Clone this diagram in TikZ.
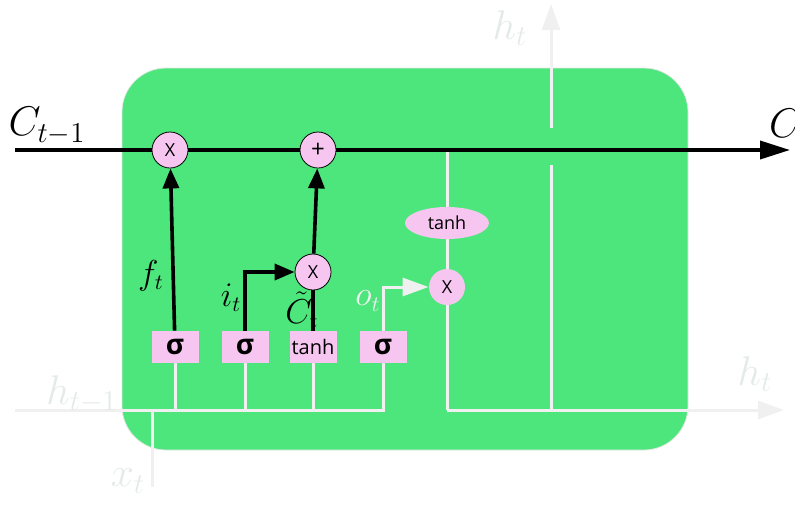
\documentclass[tikz,border=0pt]{standalone}
\usepackage{fontspec}
\setsansfont{Open Sans}
\usepackage{xcolor}
\definecolor{cellGreen}{HTML}{4DE67C}
\definecolor{gatePink}{HTML}{F6C6F0}
\definecolor{wireWhite}{HTML}{F0F0F0}
\definecolor{ghostText}{HTML}{E4EAE8}
\usepackage{tikz}
\usetikzlibrary{shapes, arrows.meta, positioning}

\begin{document}
\begin{tikzpicture}[
        x=0.5pt, y=-0.5pt,
        gateBox/.style={
            fill=gatePink,
            minimum width=23.5pt,
            minimum height=16pt,
            inner sep=0pt,
            font=\sffamily\bfseries\fontsize{14}{14}\selectfont
        },
        opCircle/.style={
            circle,
            draw=black,
            fill=gatePink,
            minimum size=18pt,
            inner sep=0pt,
            font=\sffamily\fontsize{9}{9}\selectfont
        },
        opBlob/.style={
            fill=gatePink,
            inner sep=0pt,
            font=\sffamily\fontsize{9}{9}\selectfont
        },
        cellLine/.style={
            -{Triangle[length=15pt, width=9pt]},
            black,
            line width=1.8pt
        },
        gateArrow/.style={
            -{Triangle[length=10pt, width=8pt]},
            black,
            line width=1.8pt
        },
        wireLine/.style={
            wireWhite,
            line width=1.5pt
        },
        wireArrow/.style={
            wireLine,
            -{Triangle[length=13pt, width=9pt]}
        },
        mathLabel/.style={
            font=\fontsize{16}{16}\selectfont
        },
        ghostLabel/.style={
            text=ghostText,
            font=\fontsize{20}{20}\selectfont
        }
    ]
    \useasboundingbox (0,0) rectangle (795,504);

    % Cell body
    \node[fill=cellGreen, draw=gray!20, rounded corners=22pt, minimum width=283pt, minimum height=191pt] (cell) at (405,259) {};

    % Pointwise ops on the cell state
    \node[opCircle] (mulF) at (170,150) {X};
    \node[opCircle, font=\sffamily\fontsize{12}{12}\selectfont] (addI) at (318,150) {+};
    \node[opCircle] (mulI) at (313,272) {X};
    \node[opBlob, circle, minimum size=18pt] (mulO) at (447,287) {X};
    \node[opBlob, ellipse, minimum width=42pt, minimum height=16pt] (tanhC) at (447,223) {tanh};

    % Gates Bottom
    \node[gateBox] (gF) at (175,347) {σ};
    \node[gateBox] (gI) at (245,347) {σ};
    \node[gateBox, font=\sffamily\fontsize{10}{10}\selectfont] (gC) at (313,347) {tanh};
    \node[gateBox] (gO) at (383,347) {σ};

    % Free ends
    \coordinate (cIn) at (15,150);
    \coordinate (cOut) at (790,150);
    \coordinate (hIn) at (15,410);
    \coordinate (busEnd) at (383,410);
    \coordinate (xIn) at (152,487);
    \coordinate (tapC) at (447,150);
    \coordinate (hCorner) at (447,410);
    \coordinate (hSplit) at (551,410);
    \coordinate (hOut) at (784,410);
    \coordinate (gapLow) at (551,165);
    \coordinate (gapHigh) at (551,128);
    \coordinate (hUp) at (551,4);

    % Input bus
    \draw[wireLine] (hIn) -- (busEnd) -- (gO);
    \draw[wireLine] (xIn) -- (xIn |- hIn);
    \draw[wireLine] (gF) -- (gF |- hIn);
    \draw[wireLine] (gI) -- (gI |- hIn);
    \draw[wireLine] (gC) -- (gC |- hIn);

    % Output path
    \draw[wireLine] (tapC) -- (tanhC) -- (mulO) -- (hCorner);
    \draw[wireArrow] (hCorner) -- (hOut);
    \draw[wireLine] (hSplit) -- (gapLow);
    \draw[wireArrow] (gapHigh) -- (hUp);
    \draw[wireArrow] (gO.north) |- (mulO);

    % Cell state
    \draw[cellLine] (cIn) -- (mulF) -- (addI) -- (cOut);
    \draw[gateArrow] (gF) -- (mulF);
    \draw[gateArrow] (gI.north) |- (mulI);
    \draw[black, line width=1.8pt] (gC) -- (mulI);
    \draw[gateArrow] (mulI) -- (addI);

    % Labels
    \node[font=\fontsize{20}{20}\selectfont] (lblCin) at (47,126) {$C_{t-1}$};
    \node[font=\fontsize{20}{20}\selectfont, anchor=west] (lblCout) at (762,126) {$C_t$};
    \node[mathLabel] (lblF) at (151,276) {$f_t$};
    \node[mathLabel] (lblI) at (231,298) {$i_t$};
    \node[mathLabel] (lblC) at (302,310) {$\tilde{C}_t$};
    \node[mathLabel, text=wireWhite] (lblO) at (368,301) {$o_t$};
    \node[ghostLabel] (lblHup) at (510,28) {$h_t$};
    \node[ghostLabel] (lblHout) at (755,374) {$h_t$};
    \node[ghostLabel] (lblHin) at (82,394) {$h_{t-1}$};
    \node[ghostLabel] (lblX) at (128,481) {$x_t$};
\end{tikzpicture}
\end{document}
